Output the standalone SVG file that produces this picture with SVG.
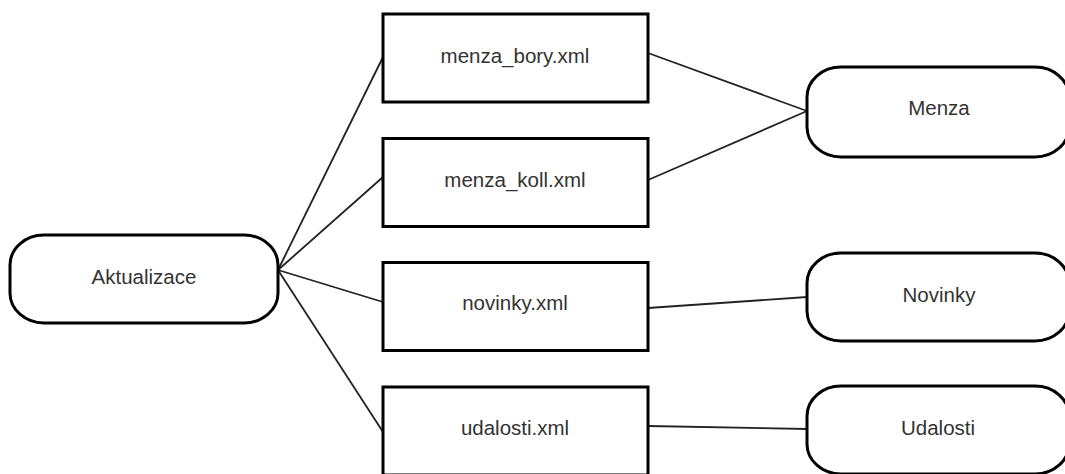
<svg xmlns="http://www.w3.org/2000/svg" width="1065" height="474" viewBox="0 0 1065 474">
<style>
.box{fill:#fff;stroke:#000;stroke-width:3}
.t{font-family:"Liberation Sans",Arial,sans-serif;font-size:20.5px;fill:#333;text-anchor:middle}
.c{stroke:#222;stroke-width:1.8;fill:none}
</style>
<rect width="1065" height="474" fill="#fff"/>
<g id="connectors">
<line class="c" x1="278" y1="270" x2="383" y2="57"/>
<line class="c" x1="278" y1="270" x2="383" y2="177"/>
<line class="c" x1="278" y1="270" x2="383" y2="302"/>
<line class="c" x1="278" y1="270" x2="383" y2="432"/>
<line class="c" x1="648" y1="53" x2="807" y2="111"/>
<line class="c" x1="648" y1="180" x2="807" y2="111"/>
<line class="c" x1="648" y1="308" x2="807" y2="297"/>
<line class="c" x1="648" y1="426" x2="807" y2="429"/>
</g>
<g id="aktualizace"><rect class="box" x="10" y="235" width="268" height="88" rx="34" ry="30"/><text class="t" x="144" y="284">Aktualizace</text></g>
<g id="menza_bory"><rect class="box" x="383" y="14" width="265" height="88"/><text class="t" x="515" y="63">menza_bory.xml</text></g>
<g id="menza_koll"><rect class="box" x="383" y="138.5" width="265" height="88"/><text class="t" x="515" y="187">menza_koll.xml</text></g>
<g id="novinky_xml"><rect class="box" x="383" y="262.5" width="265" height="88"/><text class="t" x="515" y="310">novinky.xml</text></g>
<g id="udalosti_xml"><rect class="box" x="383" y="387" width="265" height="88"/><text class="t" x="515" y="435">udalosti.xml</text></g>
<g id="menza"><rect class="box" x="807" y="67" width="262" height="90" rx="34" ry="30"/><text class="t" x="939" y="115">Menza</text></g>
<g id="novinky"><rect class="box" x="807" y="253" width="262" height="88" rx="34" ry="30"/><text class="t" x="939" y="302">Novinky</text></g>
<g id="udalosti"><rect class="box" x="807" y="386" width="262" height="88" rx="34" ry="30"/><text class="t" x="938" y="435">Udalosti</text></g>
</svg>
